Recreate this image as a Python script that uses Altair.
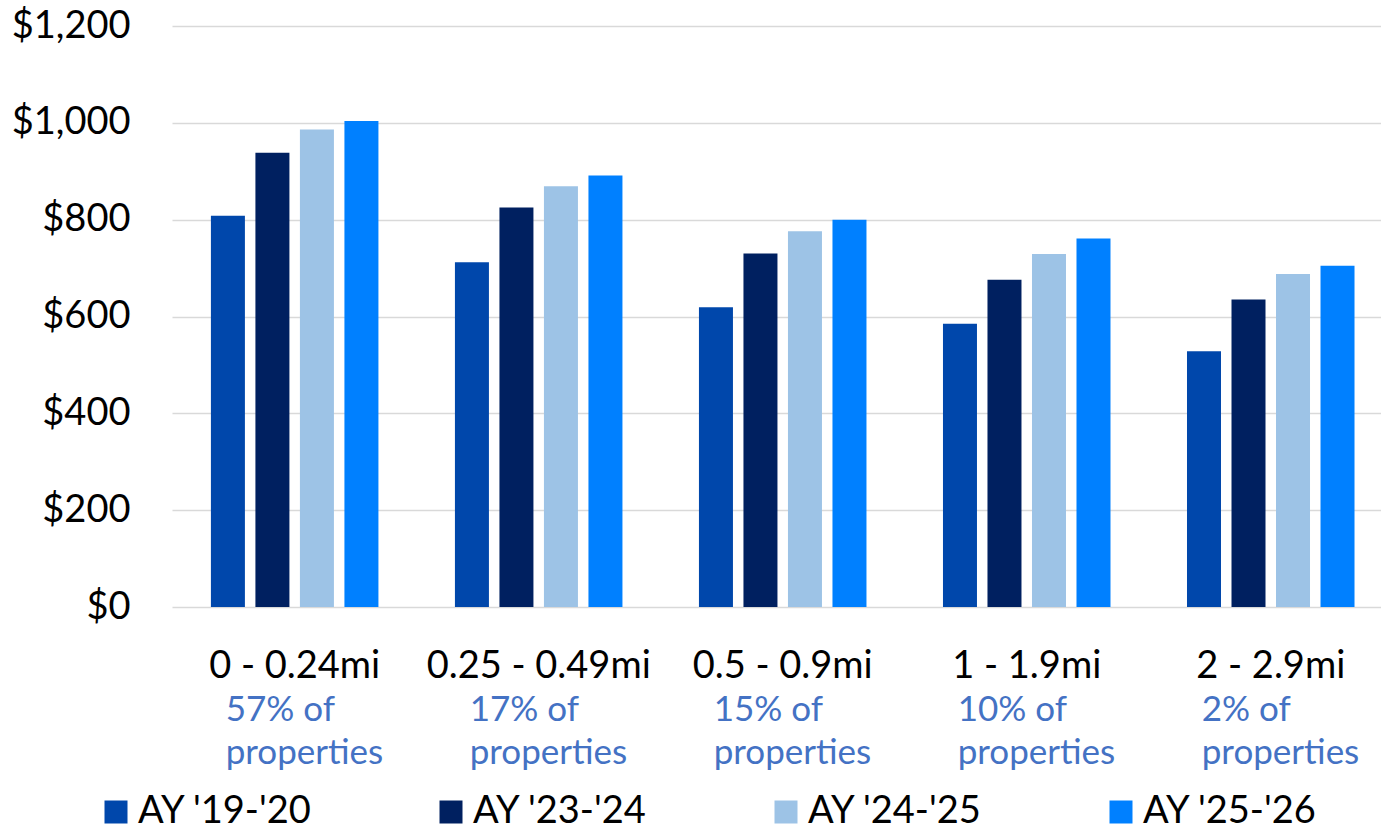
import altair as alt
import pandas as pd

categories = ["0 - 0.24mi", "0.25 - 0.49mi", "0.5 - 0.9mi", "1 - 1.9mi", "2 - 2.9mi"]
series = ["AY '19-'20", "AY '23-'24", "AY '24-'25", "AY '25-'26"]
ay_19_20 = [808, 712, 619, 585, 528]
ay_23_24 = [938, 825, 730, 676, 635]
ay_24_25 = [986, 869, 776, 729, 688]
ay_25_26 = [1004, 891, 800, 761, 705]
shares = ["57% of", "17% of", "15% of", "10% of", "2% of"]
colors = ["#0047AB", "#002060", "#9DC3E6", "#0080FF"]
y_ticks = [0, 200, 400, 600, 800, 1000, 1200]

rows = []
for s, vals in zip(series, [ay_19_20, ay_23_24, ay_24_25, ay_25_26]):
    for c, v in zip(categories, vals):
        rows.append({"cat": c, "series": s, "value": v})
df = pd.DataFrame(rows)
sub = pd.DataFrame({"cat": categories, "label": [s + "\nproperties" for s in shares]})

FONT = "Lato"

xscale = alt.Scale(domain=categories, paddingInner=0.3135, paddingOuter=0.134, align=0.595)

bars = alt.Chart(df).mark_bar().encode(
    x=alt.X("cat:N", scale=xscale, sort=categories,
            axis=alt.Axis(title=None, labelAngle=0, ticks=False, tickSize=0, domain=False,
                          labelFontSize=38, labelColor="#000000", labelPadding=40,
                          labelFont=FONT, labelLimit=400)),
    xOffset=alt.XOffset("series:N", sort=series,
                        scale=alt.Scale(paddingInner=0.236, paddingOuter=0)),
    y=alt.Y("value:Q", scale=alt.Scale(domain=[0, 1200], nice=False),
            axis=alt.Axis(title=None, values=y_ticks, format="$,.0f", ticks=False, tickSize=0,
                          domain=False, labelFontSize=38, labelColor="#000000",
                          labelPadding=42, labelFont=FONT, gridColor="#D9D9D9",
                          gridWidth=1.5)),
    color=alt.Color("series:N", sort=series,
                    scale=alt.Scale(domain=series, range=colors),
                    legend=alt.Legend(title=None, orient="none", direction="horizontal",
                                      legendX=-75, legendY=767, symbolType="square",
                                      symbolSize=529, symbolStrokeWidth=0,
                                      labelFontSize=38, labelFont=FONT,
                                      labelColor="#000000", labelOffset=3,
                                      columnPadding=119, padding=0, labelLimit=400)),
)

texts = alt.Chart(sub).mark_text(
    align="left", baseline="alphabetic", dx=-69, fontSize=35, font=FONT,
    color="#4472C4", lineBreak="\n", lineHeight=43,
).encode(
    x=alt.X("cat:N", scale=xscale, sort=categories),
    y=alt.value(695),
    text="label:N",
)

chart = alt.layer(bars, texts).properties(
    width=1209, height=581,
    autosize=alt.AutoSizeParams(type="none"),
    padding={"left": 172, "top": 26, "right": 0, "bottom": 225},
).configure(font=FONT).configure_view(stroke=None, strokeWidth=0)

chart.save("out.html", embed_options={"renderer": "svg", "actions": False})
